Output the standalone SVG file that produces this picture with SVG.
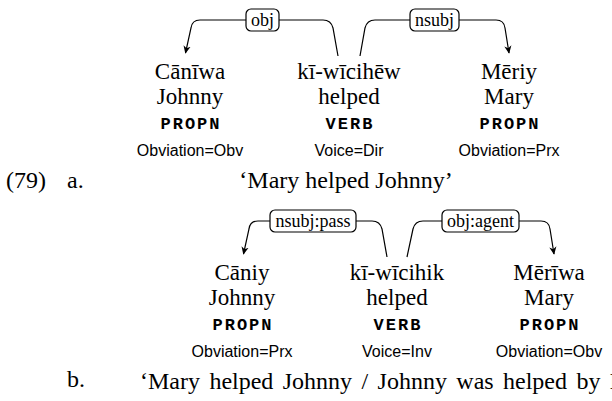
<svg xmlns="http://www.w3.org/2000/svg" width="612" height="401" viewBox="0 0 612 401">
<style>
.w{font-family:"Liberation Serif","Times New Roman",serif;font-size:23px;fill:#000;text-anchor:middle}
.tr{font-family:"Liberation Serif","Times New Roman",serif;font-size:24px;fill:#000;text-anchor:middle}
.t{font-family:"Liberation Serif","Times New Roman",serif;font-size:24px;fill:#000}
.pos{font-family:"Liberation Mono","DejaVu Sans Mono",monospace;font-size:17px;font-weight:bold;fill:#000;text-anchor:middle;letter-spacing:2px}
.f{font-family:"Liberation Sans",Arial,sans-serif;font-size:16px;fill:#000;text-anchor:middle}
.lb{font-family:"Liberation Serif","Times New Roman",serif;font-size:18px;fill:#000;text-anchor:middle}
.arc{fill:none;stroke:#000;stroke-width:1.2}
.box{fill:#fff;stroke:#000;stroke-width:1.2}
</style>
<defs>
<marker id="ah" viewBox="0 0 10 10" refX="9" refY="5" markerWidth="8" markerHeight="8" markerUnits="userSpaceOnUse" orient="auto">
<path d="M0,0.5 L10,5 L0,9.5 L3,5 Z" fill="#000"/>
</marker>
</defs>
<g id="connectors">
<path class="arc" d="M338,56 L333,28 Q331,20 323,20 L200,20 Q192,20 191,28 L185.5,53" marker-end="url(#ah)"/>
<path class="arc" d="M360,56 L365,28 Q367,20 375,20 L496,20 Q504,20 505,28 L509,53" marker-end="url(#ah)"/>
<path class="arc" d="M387,257 L382,229 Q380,221 372,221 L258,221 Q250,221 249,229 L243.5,254" marker-end="url(#ah)"/>
<path class="arc" d="M407,257 L413,229 Q415,221 423,221 L541,221 Q549,221 550,229 L554,254" marker-end="url(#ah)"/>
</g>
<g id="label-obj"><rect class="box" x="246" y="9" width="33" height="22" rx="5"/><text class="lb" x="262.5" y="26">obj</text></g>
<g id="label-nsubj"><rect class="box" x="410" y="9" width="49" height="22" rx="5"/><text class="lb" x="434.5" y="26">nsubj</text></g>
<g id="label-nsubjpass"><rect class="box" x="270" y="210" width="86" height="22" rx="5"/><text class="lb" x="313" y="227">nsubj:pass</text></g>
<g id="label-objagent"><rect class="box" x="442" y="210" width="77" height="22" rx="5"/><text class="lb" x="480.5" y="227">obj:agent</text></g>
<g id="a-w1"><text class="w" x="190" y="79">Cānīwa</text><text class="w" x="190" y="104">Johnny</text><text class="pos" x="191" y="129">PROPN</text><text class="f" x="190" y="156">Obviation=Obv</text></g>
<g id="a-w2"><text class="w" x="349" y="79">kī-wīcihēw</text><text class="w" x="349" y="104">helped</text><text class="pos" x="350" y="129">VERB</text><text class="f" x="349" y="156">Voice=Dir</text></g>
<g id="a-w3"><text class="w" x="509" y="79">Mēriy</text><text class="w" x="509" y="104">Mary</text><text class="pos" x="510" y="129">PROPN</text><text class="f" x="509" y="156">Obviation=Prx</text></g>
<g id="a-label"><text class="t" x="6" y="188">(79)</text><text class="t" x="67" y="188">a.</text><text class="tr" x="346" y="188">‘Mary helped Johnny’</text></g>
<g id="b-w1"><text class="w" x="242" y="280">Cāniy</text><text class="w" x="242" y="305">Johnny</text><text class="pos" x="243" y="330">PROPN</text><text class="f" x="242" y="357">Obviation=Prx</text></g>
<g id="b-w2"><text class="w" x="397" y="280">kī-wīcihik</text><text class="w" x="397" y="305">helped</text><text class="pos" x="398" y="330">VERB</text><text class="f" x="397" y="357">Voice=Inv</text></g>
<g id="b-w3"><text class="w" x="549" y="280">Mērīwa</text><text class="w" x="549" y="305">Mary</text><text class="pos" x="550" y="330">PROPN</text><text class="f" x="549" y="357">Obviation=Obv</text></g>
<g id="b-label"><text class="t" x="67" y="387">b.</text><text class="t" x="140" y="389" word-spacing="3.4">‘Mary helped Johnny / Johnny was helped by Mary’</text></g>
</svg>
